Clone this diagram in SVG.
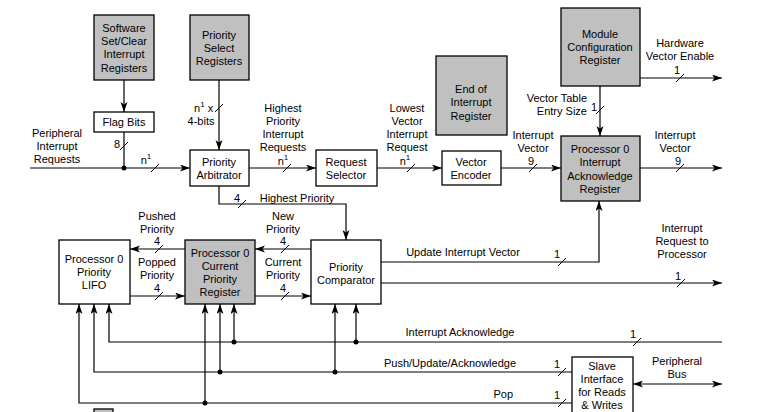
<svg xmlns="http://www.w3.org/2000/svg" width="758" height="412" viewBox="0 0 758 412">
<style>
text{font-family:"Liberation Sans",Arial,sans-serif;font-size:11px;fill:#000;text-anchor:middle}
.l{text-anchor:start}
.r{text-anchor:end}
.box{fill:#fff;stroke:#000;stroke-width:1.3}
.g{fill:#c0c0c0;stroke:#000;stroke-width:1.3}
.w{fill:none;stroke:#000;stroke-width:1.2}
.a{marker-end:url(#ah)}
.s{stroke:#000;stroke-width:1}
.sup{font-size:8px}
</style>
<defs>
<marker id="ah" markerWidth="11" markerHeight="8" refX="10" refY="3.5" orient="auto" markerUnits="userSpaceOnUse">
<path d="M0,0 L10,3.5 L0,7 L2.5,3.5 z" fill="#000"/>
</marker>
<marker id="ahs" markerWidth="11" markerHeight="8" refX="0" refY="3.5" orient="auto" markerUnits="userSpaceOnUse">
<path d="M10,0 L0,3.5 L10,7 L7.5,3.5 z" fill="#000"/>
</marker>
</defs>
<rect width="758" height="412" fill="#fff"/>

<g id="connectors">
<!-- main input -->
<line class="w a" x1="30" y1="168" x2="190" y2="168"/>
<circle cx="124" cy="168" r="2.5"/>
<line class="w" x1="124" y1="132" x2="124" y2="168"/>
<line class="w a" x1="124" y1="80" x2="124" y2="112"/>
<line class="w a" x1="219" y1="80" x2="219" y2="150"/>
<line class="w a" x1="249" y1="168" x2="316" y2="168"/>
<line class="w a" x1="377" y1="168" x2="442" y2="168"/>
<line class="w a" x1="501" y1="168" x2="561" y2="168"/>
<line class="w a" x1="640" y1="168" x2="722" y2="168"/>
<line class="w a" x1="600" y1="86" x2="600" y2="136"/>
<line class="w a" x1="640" y1="78" x2="722" y2="78"/>
<path class="w a" d="M219,186 V204 H346 V240"/>
<line class="w a" x1="185" y1="249" x2="130" y2="249"/>
<line class="w a" x1="130" y1="296" x2="185" y2="296"/>
<line class="w a" x1="311" y1="249" x2="255" y2="249"/>
<line class="w a" x1="255" y1="296" x2="311" y2="296"/>
<path class="w a" d="M381,262 H599 V201"/>
<line class="w a" x1="381" y1="283" x2="722" y2="283"/>
<!-- buses -->
<path class="w a" d="M722,342 H109 V304"/>
<line class="w a" x1="234" y1="342" x2="234" y2="304"/>
<line class="w a" x1="356" y1="342" x2="356" y2="304"/>
<circle cx="234" cy="342" r="2.5"/>
<circle cx="356" cy="342" r="2.5"/>
<path class="w a" d="M572,372 H94 V304"/>
<line class="w a" x1="220" y1="372" x2="220" y2="304"/>
<line class="w a" x1="335" y1="372" x2="335" y2="304"/>
<circle cx="220" cy="372" r="2.5"/>
<circle cx="335" cy="372" r="2.5"/>
<path class="w a" d="M572,403 H79 V304"/>
<line class="w a" x1="205" y1="403" x2="205" y2="304"/>
<circle cx="205" cy="403" r="2.5"/>
<line class="w a" x1="633" y1="384" x2="722" y2="384" marker-start="url(#ahs)"/>
<!-- slashes -->
<g class="s">
<line x1="151" y1="172" x2="159" y2="164"/>
<line x1="120" y1="150" x2="128" y2="142"/>
<line x1="215" y1="112" x2="223" y2="104"/>
<line x1="283" y1="172" x2="291" y2="164"/>
<line x1="407" y1="172" x2="415" y2="164"/>
<line x1="529" y1="172" x2="537" y2="164"/>
<line x1="676" y1="172" x2="684" y2="164"/>
<line x1="596" y1="114" x2="604" y2="106"/>
<line x1="676" y1="82" x2="684" y2="74"/>
<line x1="238" y1="208" x2="246" y2="200"/>
<line x1="155" y1="253" x2="163" y2="245"/>
<line x1="155" y1="300" x2="163" y2="292"/>
<line x1="281" y1="253" x2="289" y2="245"/>
<line x1="281" y1="300" x2="289" y2="292"/>
<line x1="558" y1="266" x2="566" y2="258"/>
<line x1="677" y1="287" x2="685" y2="279"/>
<line x1="633" y1="346" x2="641" y2="338"/>
<line x1="558" y1="376" x2="566" y2="368"/>
<line x1="558" y1="407" x2="566" y2="399"/>
</g>
<!-- connector labels -->
<text x="57" y="137">Peripheral</text>
<text x="57" y="150">Interrupt</text>
<text x="57" y="163">Requests</text>
<text x="117" y="148">8</text>
<text x="146" y="164">n<tspan class="sup" dy="-5">1</tspan></text>
<text class="l" x="194" y="112">n<tspan class="sup" dy="-5">1</tspan><tspan dy="5"> x</tspan></text>
<text x="201" y="125">4-bits</text>
<text x="283" y="112">Highest</text>
<text x="283" y="125">Priority</text>
<text x="283" y="138">Interrupt</text>
<text x="283" y="151">Requests</text>
<text x="283" y="165">n<tspan class="sup" dy="-5">1</tspan></text>
<text x="407" y="112">Lowest</text>
<text x="407" y="125">Vector</text>
<text x="407" y="138">Interrupt</text>
<text x="407" y="151">Request</text>
<text x="405" y="165">n<tspan class="sup" dy="-5">1</tspan></text>
<text x="533" y="139">Interrupt</text>
<text x="533" y="152">Vector</text>
<text x="531" y="165">9</text>
<text x="675" y="139">Interrupt</text>
<text x="675" y="152">Vector</text>
<text x="678" y="165">9</text>
<text x="680" y="47">Hardware</text>
<text x="680" y="60">Vector Enable</text>
<text x="677" y="74">1</text>
<text class="r" x="587" y="102">Vector Table</text>
<text class="r" x="587" y="115">Entry Size</text>
<text x="594" y="111">1</text>
<text x="237" y="202">4</text>
<text x="297" y="202">Highest Priority</text>
<text x="157" y="220">Pushed</text>
<text x="157" y="233">Priority</text>
<text x="157" y="245">4</text>
<text x="157" y="266">Popped</text>
<text x="157" y="279">Priority</text>
<text x="157" y="292">4</text>
<text x="283" y="220">New</text>
<text x="283" y="233">Priority</text>
<text x="283" y="245">4</text>
<text x="283" y="266">Current</text>
<text x="283" y="279">Priority</text>
<text x="283" y="292">4</text>
<text x="463" y="256">Update Interrupt Vector</text>
<text x="557" y="258">1</text>
<text x="682" y="232">Interrupt</text>
<text x="682" y="245">Request to</text>
<text x="682" y="258">Processor</text>
<text x="678" y="280">1</text>
<text x="460" y="336">Interrupt Acknowledge</text>
<text x="633" y="338">1</text>
<text x="450" y="367">Push/Update/Acknowledge</text>
<text x="557" y="368">1</text>
<text class="r" x="513" y="398">Pop</text>
<text x="557" y="399">1</text>
<text x="677" y="365">Peripheral</text>
<text x="677" y="378">Bus</text>
</g>

<g id="software-set-clear">
<rect class="g" x="94" y="15" width="60" height="65"/>
<text x="124" y="32">Software</text>
<text x="124" y="45">Set/Clear</text>
<text x="124" y="58">Interrupt</text>
<text x="124" y="72">Registers</text>
</g>
<g id="priority-select">
<rect class="g" x="190" y="15" width="59" height="65"/>
<text x="219" y="39">Priority</text>
<text x="219" y="52">Select</text>
<text x="219" y="65">Registers</text>
</g>
<g id="flag-bits">
<rect class="box" x="94" y="112" width="60" height="20"/>
<text x="124" y="126">Flag Bits</text>
</g>
<g id="priority-arbitrator">
<rect class="box" x="190" y="150" width="59" height="36"/>
<text x="219" y="166">Priority</text>
<text x="219" y="179">Arbitrator</text>
</g>
<g id="request-selector">
<rect class="box" x="316" y="150" width="61" height="36"/>
<text x="346" y="166">Request</text>
<text x="346" y="179">Selector</text>
</g>
<g id="vector-encoder">
<rect class="box" x="442" y="151" width="59" height="34"/>
<text x="471" y="166">Vector</text>
<text x="471" y="179">Encoder</text>
</g>
<g id="end-of-interrupt">
<rect class="g" x="436" y="56" width="71" height="79"/>
<text x="471" y="93">End of</text>
<text x="471" y="106">Interrupt</text>
<text x="471" y="120">Register</text>
</g>
<g id="module-config">
<rect class="g" x="561" y="8" width="79" height="78"/>
<text x="600" y="38">Module</text>
<text x="600" y="51">Configuration</text>
<text x="600" y="64">Register</text>
</g>
<g id="interrupt-ack-register">
<rect class="g" x="561" y="136" width="79" height="65"/>
<text x="600" y="153">Processor 0</text>
<text x="600" y="166">Interrupt</text>
<text x="600" y="180">Acknowledge</text>
<text x="600" y="193">Register</text>
</g>
<g id="priority-lifo">
<rect class="box" x="59" y="240" width="71" height="64"/>
<text x="94" y="263">Processor 0</text>
<text x="94" y="276">Priority</text>
<text x="94" y="289">LIFO</text>
</g>
<g id="current-priority-register">
<rect class="g" x="185" y="240" width="70" height="64"/>
<text x="220" y="257">Processor 0</text>
<text x="220" y="270">Current</text>
<text x="220" y="283">Priority</text>
<text x="220" y="296">Register</text>
</g>
<g id="priority-comparator">
<rect class="box" x="311" y="240" width="70" height="64"/>
<text x="346" y="271">Priority</text>
<text x="346" y="284">Comparator</text>
</g>
<g id="slave-interface">
<rect class="box" x="572" y="357" width="61" height="62"/>
<text x="602" y="370">Slave</text>
<text x="602" y="383">Interface</text>
<text x="602" y="396">for Reads</text>
<text x="602" y="409">&amp; Writes</text>
</g>
<g id="legend-fragment">
<rect class="g" x="94" y="409" width="19" height="8"/>
</g>
</svg>
